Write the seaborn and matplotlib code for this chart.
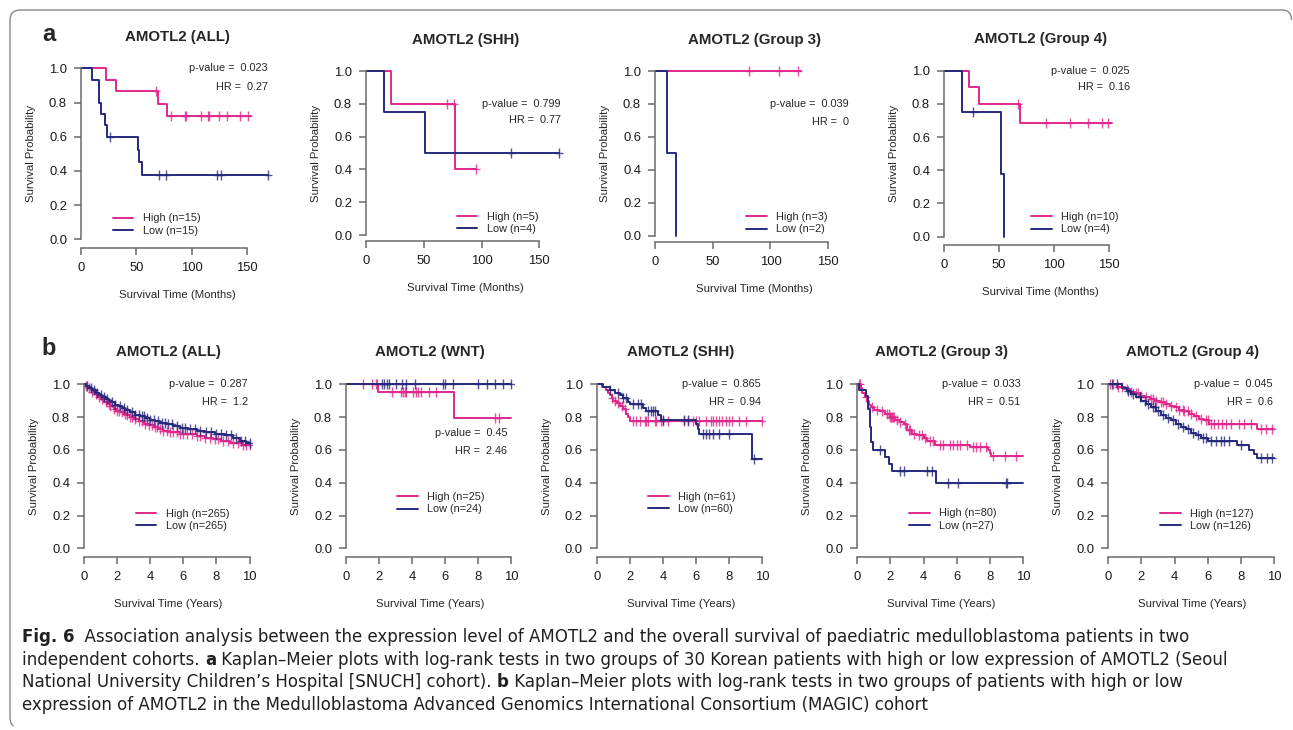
import numpy as np
import pandas as pd
import seaborn as sns
import matplotlib.pyplot as plt
from matplotlib.lines import Line2D
from matplotlib.path import Path
from matplotlib.patches import PathPatch
from matplotlib import font_manager

# ---------------- data: panel a (SNUCH cohort, months) ----------------
a_titles = ['AMOTL2 (ALL)', 'AMOTL2 (SHH)', 'AMOTL2 (Group 3)', 'AMOTL2 (Group 4)']
a_pvalues = ['0.023', '0.799', '0.039', '0.025']
a_hr = ['0.27', '0.77', '0', '0.16']
a_n_high = [15, 5, 3, 10]
a_n_low = [15, 4, 2, 4]
a_xticks = [0, 50, 100, 150]

a_all_high_t = [0, 23, 31.5, 70, 77.6]
a_all_high_s = [1.0, 0.933, 0.867, 0.794, 0.722]
a_all_high_cens = [67.5, 81.2, 93.6, 94.8, 108.6, 114.4, 115.3, 124.4, 131.9, 144, 151]
a_all_high_end = 153.5
a_all_low_t = [0, 10.3, 16.3, 17.8, 21.7, 23.8, 51.3, 52.8, 55.0]
a_all_low_s = [1.0, 0.933, 0.80, 0.733, 0.667, 0.60, 0.525, 0.45, 0.375]
a_all_low_cens = [26.3, 70.9, 76.7, 122.8, 126.5, 169]
a_all_low_end = 169

a_shh_high_t = [0, 21.6, 76.8]
a_shh_high_s = [1.0, 0.8, 0.4]
a_shh_high_cens = [70.4, 76.0, 95.2]
a_shh_high_end = 95.2
a_shh_low_t = [0, 15.6, 50.8]
a_shh_low_s = [1.0, 0.75, 0.5]
a_shh_low_cens = [125.5, 167.3]
a_shh_low_end = 167.3

a_g3_high_t = [0]
a_g3_high_s = [1.0]
a_g3_high_cens = [81.3, 107.6, 124]
a_g3_high_end = 126
a_g3_low_t = [0, 10.1, 18.2]
a_g3_low_s = [1.0, 0.5, 0.0]
a_g3_low_cens = []
a_g3_low_end = 18.2

a_g4_high_t = [0, 23, 31.8, 68.9]
a_g4_high_s = [1.0, 0.9, 0.8, 0.686]
a_g4_high_cens = [66.8, 92.5, 114.3, 130.6, 143, 149]
a_g4_high_end = 152.7
a_g4_low_t = [0, 16, 51.7, 54.1]
a_g4_low_s = [1.0, 0.75, 0.375, 0.0]
a_g4_low_cens = [26.6]
a_g4_low_end = 54.1

# ---------------- data: panel b (MAGIC cohort, years) ----------------
b_titles = ['AMOTL2 (ALL)', 'AMOTL2 (WNT)', 'AMOTL2 (SHH)', 'AMOTL2 (Group 3)', 'AMOTL2 (Group 4)']
b_pvalues = ['0.287', '0.45', '0.865', '0.033', '0.045']
b_hr = ['1.2', '2.46', '0.94', '0.51', '0.6']
b_n_high = [265, 25, 61, 80, 127]
b_n_low = [265, 24, 60, 27, 126]
b_xticks = [0, 2, 4, 6, 8, 10]

b_all_high_t = [0, 0.1, 0.2, 0.35, 0.5, 0.65, 0.8, 1.0, 1.2, 1.4, 1.6, 1.8, 2.0, 2.2, 2.4, 2.6, 2.8,
                3.0, 3.3, 3.6, 3.9, 4.2, 4.5, 4.8, 5.2, 5.8, 6.3, 6.8, 7.3, 7.8, 8.3, 8.8, 9.2, 9.6]
b_all_high_s = [1.0, 0.99, 0.98, 0.97, 0.955, 0.94, 0.925, 0.91, 0.895, 0.88, 0.865, 0.85, 0.84, 0.83,
                0.82, 0.81, 0.80, 0.79, 0.775, 0.76, 0.75, 0.74, 0.725, 0.715, 0.71, 0.70, 0.695, 0.685,
                0.675, 0.665, 0.655, 0.645, 0.64, 0.63]
b_all_high_cens = [0.1, 0.3, 0.5, 0.7, 0.9, 1.1, 1.3, 1.5, 1.6, 1.8, 2.0, 2.1, 2.3, 2.5, 2.6, 2.8, 2.9,
                   3.1, 3.3, 3.5, 3.7, 3.9, 4.1, 4.3, 4.4, 4.6, 4.8, 5.0, 5.2, 5.4, 5.6, 5.8, 6.0, 6.2,
                   6.5, 6.8, 7.0, 7.3, 7.6, 7.9, 8.1, 8.4, 8.7, 9.0, 9.3, 9.6, 9.8, 10.0]
b_all_high_end = 10
b_all_low_t = [0, 0.15, 0.3, 0.5, 0.7, 0.9, 1.1, 1.3, 1.5, 1.7, 1.9, 2.1, 2.3, 2.5, 2.8, 3.1, 3.4, 3.7,
               4.0, 4.3, 4.6, 5.0, 5.4, 5.8, 6.3, 6.8, 7.3, 7.9, 8.5, 9.0, 9.4, 9.8]
b_all_low_s = [1.0, 0.99, 0.98, 0.965, 0.95, 0.935, 0.925, 0.91, 0.90, 0.89, 0.875, 0.865, 0.855, 0.845,
               0.83, 0.815, 0.805, 0.795, 0.785, 0.775, 0.765, 0.755, 0.745, 0.735, 0.725, 0.715, 0.71,
               0.70, 0.69, 0.67, 0.655, 0.64]
b_all_low_cens = [0.2, 0.4, 0.6, 0.8, 1.0, 1.2, 1.4, 1.7, 1.9, 2.2, 2.4, 2.6, 2.9, 3.1, 3.3, 3.5, 3.6,
                  3.8, 4.0, 4.2, 4.5, 4.7, 4.9, 5.1, 5.3, 5.6, 5.9, 6.1, 6.4, 6.7, 7.0, 7.4, 7.7, 8.0,
                  8.3, 8.6, 8.9, 9.2, 9.5, 9.7, 10.0]
b_all_low_end = 10

b_wnt_high_t = [0, 1.95, 6.55]
b_wnt_high_s = [1.0, 0.955, 0.795]
b_wnt_high_cens = [1.05, 1.55, 1.8, 1.85, 2.75, 3.35, 3.45, 3.55, 3.65, 4.05, 4.2, 4.35, 4.55, 5.0,
                   5.45, 9.0, 9.25]
b_wnt_high_end = 10
b_wnt_low_t = [0]
b_wnt_low_s = [1.0]
b_wnt_low_cens = [2.15, 2.3, 2.45, 2.6, 3.05, 3.4, 3.6, 4.15, 5.85, 6.0, 6.45, 8.0, 8.5, 9.0, 9.5, 9.95]
b_wnt_low_end = 10

b_shh_high_t = [0, 0.3, 0.55, 0.7, 0.8, 0.9, 1.0, 1.2, 1.4, 1.6, 1.8, 1.9, 2.0]
b_shh_high_s = [1.0, 0.984, 0.967, 0.95, 0.934, 0.918, 0.90, 0.885, 0.87, 0.852, 0.82, 0.80, 0.775]
b_shh_high_cens = [0.95, 1.1, 1.3, 1.5, 1.7, 2.2, 2.4, 2.6, 2.9, 3.0, 3.1, 3.5, 3.6, 3.9, 4.0, 4.3,
                   5.3, 5.5, 5.8, 6.0, 6.2, 6.6, 6.9, 7.0, 7.2, 7.4, 7.6, 7.8, 8.0, 8.2, 8.6, 9.0, 10.0]
b_shh_high_end = 10
b_shh_low_t = [0, 0.4, 0.8, 1.1, 1.4, 1.6, 1.9, 2.0, 2.8, 3.0, 3.7, 3.9, 6.0, 6.1, 6.2, 9.4]
b_shh_low_s = [1.0, 0.983, 0.967, 0.95, 0.933, 0.915, 0.895, 0.877, 0.858, 0.838, 0.81, 0.782,
               0.755, 0.728, 0.70, 0.545]
b_shh_low_cens = [0.8, 1.3, 1.6, 1.8, 2.2, 2.5, 2.7, 3.1, 3.3, 3.4, 3.5, 4.0, 5.3, 5.5, 6.4, 6.6, 6.8,
                  7.0, 7.4, 8.0, 9.5]
b_shh_low_end = 10

b_g3_high_t = [0, 0.2, 0.3, 0.45, 0.6, 0.7, 0.8, 1.0, 1.4, 1.7, 2.0, 2.3, 2.6, 2.8, 3.0, 3.3, 3.6,
               4.0, 4.2, 4.7, 6.8, 7.9, 8.0, 8.1]
b_g3_high_s = [1.0, 0.975, 0.95, 0.925, 0.90, 0.875, 0.86, 0.845, 0.835, 0.82, 0.80, 0.78, 0.77,
               0.755, 0.72, 0.70, 0.69, 0.675, 0.655, 0.63, 0.62, 0.60, 0.58, 0.565]
b_g3_high_cens = [0.1, 0.15, 0.5, 0.9, 1.2, 1.5, 1.8, 1.9, 2.0, 2.05, 2.1, 2.15, 2.2, 2.4, 2.6, 2.9,
                  3.1, 3.2, 3.4, 3.7, 3.9, 4.1, 4.4, 4.6, 5.0, 5.2, 5.6, 5.8, 6.0, 6.2, 6.6, 7.0, 7.2,
                  7.4, 7.8, 8.2, 8.9, 9.6]
b_g3_high_end = 10
b_g3_low_t = [0, 0.1, 0.5, 0.65, 0.75, 0.85, 0.95, 1.7, 1.9, 2.1, 4.75]
b_g3_low_s = [1.0, 0.963, 0.926, 0.85, 0.74, 0.65, 0.60, 0.555, 0.515, 0.47, 0.40]
b_g3_low_cens = [1.4, 2.6, 2.8, 4.2, 4.5, 5.5, 6.1, 9.0, 9.05]
b_g3_low_end = 10

b_g4_high_t = [0, 0.5, 1.0, 1.3, 1.6, 1.9, 2.2, 2.5, 2.8, 3.1, 3.4, 3.7, 4.0, 4.3, 4.6, 4.9, 5.2,
               5.5, 5.8, 6.1, 9.0]
b_g4_high_s = [1.0, 0.985, 0.97, 0.955, 0.945, 0.93, 0.92, 0.91, 0.90, 0.89, 0.88, 0.87, 0.86, 0.845,
               0.835, 0.82, 0.805, 0.79, 0.78, 0.76, 0.728]
b_g4_high_cens = [0.1, 0.3, 0.6, 0.8, 1.1, 1.4, 1.7, 1.8, 2.0, 2.3, 2.6, 2.7, 2.9, 3.2, 3.3, 3.5, 3.8,
                  4.1, 4.3, 4.5, 4.6, 4.8, 5.0, 5.3, 5.6, 5.9, 6.0, 6.2, 6.4, 6.6, 6.9, 7.1, 7.4, 7.9,
                  8.2, 8.6, 9.2, 9.5, 9.9]
b_g4_high_end = 10
b_g4_low_t = [0, 0.8, 1.1, 1.4, 1.7, 2.0, 2.3, 2.6, 2.9, 3.2, 3.5, 3.8, 4.1, 4.4, 4.7, 5.0, 5.3, 5.6,
              6.0, 7.8, 8.5, 8.8, 9.0]
b_g4_low_s = [1.0, 0.98, 0.96, 0.94, 0.92, 0.90, 0.88, 0.86, 0.835, 0.815, 0.795, 0.78, 0.76, 0.74,
              0.725, 0.705, 0.69, 0.675, 0.655, 0.628, 0.60, 0.575, 0.55]
b_g4_low_cens = [0.2, 0.5, 1.2, 1.5, 1.9, 2.2, 2.4, 2.7, 2.8, 3.0, 3.3, 3.6, 3.9, 4.2, 4.5, 4.8, 5.1,
                 5.4, 5.7, 5.9, 6.2, 6.5, 6.8, 7.0, 7.3, 8.0, 9.2, 9.6, 9.9]
b_g4_low_end = 10

caption_lines = [
    [('Fig. 6', True), ('  Association analysis between the expression level of AMOTL2 and the overall '
                        'survival of paediatric medulloblastoma patients in two', False)],
    [('independent cohorts. ', False), ('a', True),
     (' Kaplan–Meier plots with log-rank tests in two groups of 30 Korean patients with high or low '
      'expression of AMOTL2 (Seoul', False)],
    [('National University Children’s Hospital [SNUCH] cohort). ', False), ('b', True),
     (' Kaplan–Meier plots with log-rank tests in two groups of patients with high or low', False)],
    [('expression of AMOTL2 in the Medulloblastoma Advanced Genomics International Consortium '
      '(MAGIC) cohort', False)],
]

HIGH = '#e0288c'
LOW = '#27297c'
AXC = '#6a6a6a'

a_curves = [
    ((a_all_high_t, a_all_high_s, a_all_high_cens, a_all_high_end),
     (a_all_low_t, a_all_low_s, a_all_low_cens, a_all_low_end)),
    ((a_shh_high_t, a_shh_high_s, a_shh_high_cens, a_shh_high_end),
     (a_shh_low_t, a_shh_low_s, a_shh_low_cens, a_shh_low_end)),
    ((a_g3_high_t, a_g3_high_s, a_g3_high_cens, a_g3_high_end),
     (a_g3_low_t, a_g3_low_s, a_g3_low_cens, a_g3_low_end)),
    ((a_g4_high_t, a_g4_high_s, a_g4_high_cens, a_g4_high_end),
     (a_g4_low_t, a_g4_low_s, a_g4_low_cens, a_g4_low_end)),
]
b_curves = [
    ((b_all_high_t, b_all_high_s, b_all_high_cens, b_all_high_end),
     (b_all_low_t, b_all_low_s, b_all_low_cens, b_all_low_end)),
    ((b_wnt_high_t, b_wnt_high_s, b_wnt_high_cens, b_wnt_high_end),
     (b_wnt_low_t, b_wnt_low_s, b_wnt_low_cens, b_wnt_low_end)),
    ((b_shh_high_t, b_shh_high_s, b_shh_high_cens, b_shh_high_end),
     (b_shh_low_t, b_shh_low_s, b_shh_low_cens, b_shh_low_end)),
    ((b_g3_high_t, b_g3_high_s, b_g3_high_cens, b_g3_high_end),
     (b_g3_low_t, b_g3_low_s, b_g3_low_cens, b_g3_low_end)),
    ((b_g4_high_t, b_g4_high_s, b_g4_high_cens, b_g4_high_end),
     (b_g4_low_t, b_g4_low_s, b_g4_low_cens, b_g4_low_end)),
]

# ---------------- layout (pixels) ----------------
# x of t=0, px per unit, xmax, y of S=1, y of S=0, y of x-axis line
a_geom = [(81, 1.107, 175, 68.3, 239.3, 248.3), (366, 1.155, 172, 71, 235, 241.3),
          (655, 1.155, 172, 71, 235.7, 242), (944, 1.102, 175, 70.7, 236.7, 245.3)]
b_geom = [(x0, 16.55, 10.15, 384.3, 548.3, 557.3) for x0 in (84, 346, 596.7, 857.3, 1108.3)]
# text anchors in data coords: (p/HR right x, p y, HR y, legend x, legend mid y)
a_text = [(169, 1.0, 0.89, 28.6, 0.087), (168.6, 0.80, 0.70, 78.5, 0.072),
          (168, 0.80, 0.69, 78.8, 0.075), (168.8, 1.0, 0.90, 79, 0.081)]
b_text = [(9.89, 1.0, 0.89, 3.12, 0.175), (9.75, 0.70, 0.595, 3.08, 0.274),
          (9.91, 1.0, 0.893, 3.1, 0.278), (9.87, 1.0, 0.893, 3.12, 0.176), (9.93, 1.0, 0.89, 3.12, 0.175)]

W, H = 1293, 730
sns.set_style('ticks')
plt.rcParams['font.family'] = ['Liberation Sans', 'DejaVu Sans']
fig = plt.figure(figsize=(W / 100, H / 100), dpi=100)


def make_axes(x0, ppu, xmax, y1, y0, yline):
    unit = y0 - y1
    top = y1 - 0.04 * unit
    ylo = -(yline - y0) / unit
    ax = fig.add_axes([x0 / W, 1 - yline / H, xmax * ppu / W, (yline - top) / H])
    ax.set_xlim(0, xmax)
    ax.set_ylim(ylo, 1.04)
    return ax


def draw_km(ax, t, s, cens, end, color):
    tt = np.asarray(t, float)
    ss = np.asarray(s, float)
    df = pd.DataFrame({'t': np.append(tt, end), 's': np.append(ss, ss[-1])})
    sns.lineplot(data=df, x='t', y='s', ax=ax, color=color, lw=1.4, drawstyle='steps-post',
                 estimator=None, sort=False)
    if len(cens):
        idx = np.searchsorted(tt, cens, side='right') - 1
        ax.plot(cens, ss[idx], ls='none', marker='|', ms=7, mew=1.0, color=color, alpha=0.8)
        ax.plot(cens, ss[idx], ls='none', marker='_', ms=6, mew=1.0, color=color, alpha=0.8)


def panel(geom, curves, title, pval, hr, nh, nl, xticks, txt, xlabel, title_pad):
    ax = make_axes(*geom)
    (h, l) = curves
    draw_km(ax, *h, HIGH)
    draw_km(ax, *l, LOW)
    ax.set_xticks(xticks)
    ax.set_yticks([0, 0.2, 0.4, 0.6, 0.8, 1.0])
    ax.set_yticklabels(['0.0', '0.2', '0.4', '0.6', '0.8', '1.0'])
    sns.despine(ax=ax, trim=True)
    for sp in ('left', 'bottom'):
        ax.spines[sp].set_color(AXC)
        ax.spines[sp].set_linewidth(1.1)
    ax.tick_params(length=5, width=1.1, color=AXC, labelsize=9.4, labelcolor='#1a1a1a', pad=5)
    ax.set_title(title, fontsize=10.8, fontweight='bold', pad=title_pad)
    ax.set_xlabel(xlabel, fontsize=8.2)
    ax.set_ylabel('Survival Probability', fontsize=8.2)
    wpx = geom[2] * geom[1]
    hpx = geom[5] - (geom[3] - 0.04 * (geom[4] - geom[3]))
    ax.xaxis.label.set_va('center')
    ax.yaxis.label.set_va('center')
    ax.xaxis.set_label_coords(0.5, -47 / hpx)
    ax.yaxis.set_label_coords(-50 / wpx, (geom[5] - (geom[3] + geom[4]) / 2) / hpx)
    rx, py, hy, lx, ly = txt
    ax.text(rx, py, f'p-value =  {pval}', ha='right', va='center', fontsize=7.8)
    ax.text(rx, hy, f'HR =  {hr}', ha='right', va='center', fontsize=7.8)
    handles = [Line2D([], [], color=HIGH, lw=1.4), Line2D([], [], color=LOW, lw=1.4)]
    ax.legend(handles, [f'High (n={nh})', f'Low (n={nl})'], loc='center left',
              bbox_to_anchor=(lx, ly), bbox_transform=ax.transData, frameon=False,
              borderpad=0, borderaxespad=0, handlelength=1.9, handletextpad=0.9,
              labelspacing=0.2, fontsize=7.8)
    return ax


for i in range(4):
    panel(a_geom[i], a_curves[i], a_titles[i], a_pvalues[i], a_hr[i], a_n_high[i], a_n_low[i],
          a_xticks, a_text[i], 'Survival Time (Months)', 15)
for i in range(5):
    panel(b_geom[i], b_curves[i], b_titles[i], b_pvalues[i], b_hr[i], b_n_high[i], b_n_low[i],
          b_xticks, b_text[i], 'Survival Time (Years)', 16)

fig.text(49 / W, 1 - 41 / H, 'a', fontsize=17, fontweight='bold', ha='center', va='baseline')
fig.text(49 / W, 1 - 355 / H, 'b', fontsize=17, fontweight='bold', ha='center', va='baseline')

# border (left + top, rounded corners)
verts = [(13.5, 726), (10, 724), (10, 717), (10, 20), (10, 10), (20, 10), (1282, 10), (1291.5, 10),
         (1291.5, 20)]
codes = [Path.MOVETO, Path.CURVE3, Path.CURVE3, Path.LINETO, Path.CURVE3, Path.CURVE3, Path.LINETO,
         Path.CURVE3, Path.CURVE3]
verts = [(x / W, 1 - y / H) for x, y in verts]
fig.add_artist(PathPatch(Path(verts, codes), transform=fig.transFigure, fill=False,
                         edgecolor='#8a8a8a', lw=1.0))

# caption: prefer a condensed face if one is installed
fonts = font_manager.fontManager.ttflist
names = {f.name for f in fonts}
cap_kw = {'family': 'Roboto'}
if 'Liberation Sans Narrow' in names:
    cap_kw = {'family': 'Liberation Sans Narrow'}
elif any(f.name == 'DejaVu Sans' and f.stretch == 'condensed' for f in fonts):
    cap_kw = {'family': 'DejaVu Sans', 'fontstretch': 'condensed'}
elif not any(f.name == 'Roboto' for f in fonts):
    cap_kw = {'family': 'Liberation Sans'}
renderer = fig.canvas.get_renderer()
probe = fig.text(0, 0, ''.join(p for p, _ in caption_lines[0]), fontsize=10, **cap_kw)
probe_w = probe.get_window_extent(renderer).width
probe.remove()
cap_fs = min(10 * (1233 - 22) / probe_w, 13.3)
baselines = [642, 665, 687, 710]
for line, yb in zip(caption_lines, baselines):
    x = 22
    for txt, bold in line:
        t = fig.text(x / W, 1 - yb / H, txt, fontsize=cap_fs,
                     fontweight='bold' if bold else 'normal', ha='left', va='baseline',
                     color='#231f20', **cap_kw)
        x += t.get_window_extent(renderer).width

fig.savefig('out.png', dpi=100)
